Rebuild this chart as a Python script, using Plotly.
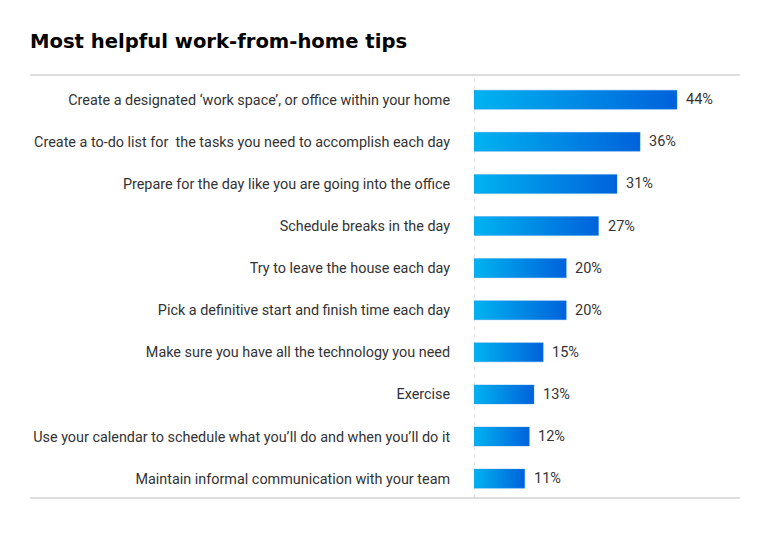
import plotly.graph_objects as go

categories = [
    "Create a designated ‘work space’, or office within your home",
    "Create a to-do list for  the tasks you need to accomplish each day",
    "Prepare for the day like you are going into the office",
    "Schedule breaks in the day",
    "Try to leave the house each day",
    "Pick a definitive start and finish time each day",
    "Make sure you have all the technology you need",
    "Exercise",
    "Use your calendar to schedule what you’ll do and when you’ll do it",
    "Maintain informal communication with your team",
]
values = [44, 36, 31, 27, 20, 20, 15, 13, 12, 11]
value_labels = [f"{v}%" for v in values]

W, H = 770, 533
# page body adds an 8px offset, so figure coordinates are shifted by -8
L, R, T, B = 466, 38, 67, 43
plot_w = W - L - R
plot_h = H - T - B
px_per_unit = 4.614
x_max = plot_w / px_per_unit
row_px = 42.1
y_top = -0.587
y_bottom = y_top + plot_h / row_px
half_h = 0.226

fig = go.Figure()
for i, v in enumerate(values):
    fig.add_trace(go.Scatter(
        x=[0, v, v, 0, 0],
        y=[i - half_h, i - half_h, i + half_h, i + half_h, i - half_h],
        mode="lines",
        line=dict(width=0.6, color="rgba(40,140,230,0.6)"),
        fill="toself",
        fillgradient=dict(
            type="horizontal",
            colorscale=[[0, "#00b3f0"], [1, "#0062db"]],
        ),
        hoverinfo="skip",
        showlegend=False,
    ))

for i, (v, lab) in enumerate(zip(values, value_labels)):
    fig.add_annotation(
        x=v, y=i, xref="x", yref="y", text=lab, showarrow=False,
        xanchor="left", yanchor="middle", xshift=7,
        font=dict(family="Roboto", size=14.5, color="#333333"),
    )

line_color = "#bdbdbd"
x0p = (22 - L) / plot_w
x1p = (732 - L) / plot_w
fig.add_shape(type="line", xref="paper", yref="paper", x0=x0p, x1=x1p, y0=1, y1=1,
              line=dict(color=line_color, width=1))
fig.add_shape(type="line", xref="paper", yref="paper", x0=x0p, x1=x1p, y0=0, y1=0,
              line=dict(color=line_color, width=1))
fig.add_shape(type="line", xref="x", yref="paper", x0=0, x1=0, y0=0, y1=1,
              line=dict(color="#cccccc", width=1, dash="4px,4px"), layer="below")

fig.update_layout(
    width=W, height=H,
    margin=dict(l=L, r=R, t=T, b=B),
    paper_bgcolor="white", plot_bgcolor="white",
    title=dict(
        text="<b>Most helpful work-from-home tips</b>",
        x=22 / W, xanchor="left", xref="container",
        y=1 - 33 / H, yanchor="middle", yref="container",
        font=dict(family="DejaVu Sans", size=19.6, color="#000000"),
    ),
    xaxis=dict(range=[0, x_max], visible=False, fixedrange=True),
    yaxis=dict(
        range=[y_bottom, y_top],
        tickmode="array",
        tickvals=list(range(len(values))),
        ticktext=categories,
        showgrid=False, zeroline=False, showline=False,
        ticks="outside", ticklen=20, tickcolor="rgba(0,0,0,0)",
        tickfont=dict(family="Roboto", size=14.4, color="#333333"),
        fixedrange=True,
    ),
)

fig.write_html("out.html")
